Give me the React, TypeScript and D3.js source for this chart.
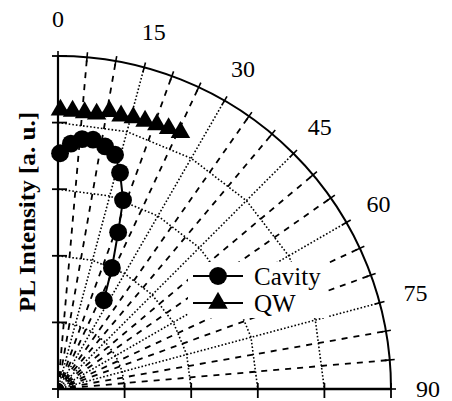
import React from 'react';
import * as d3 from 'd3';

// angle in degrees (0 = up, 90 = right), intensity in ring units
const cavityAngles = [0.5, 3, 5.5, 8, 11, 13.7, 16, 19, 21, 24, 27.3];
const cavityValues = [3.54, 3.69, 3.77, 3.78, 3.71, 3.62, 3.38, 3.0, 2.52, 1.99, 1.5];
const qwAngles = [0.5, 3, 5.5, 8, 10.5, 13, 15.5, 18, 20.5, 23, 25.5];
const qwValues = [4.19, 4.18, 4.17, 4.17, 4.24, 4.21, 4.23, 4.23, 4.24, 4.25, 4.27];

const angleLabels = [0, 15, 30, 45, 60, 75, 90];
const angleTicks = d3.range(0, 91, 5);
const ringTicks = [0, 1, 2, 3, 4, 5];

const W = 452, H = 401;
const cx = 58, cy = 389;
const R = 333;

const App = () => {
    const r = d3.scaleLinear().domain([0, 5]).range([0, R]);
    const a = d3.scaleLinear().domain([0, 90]).range([0, Math.PI / 2]);

    const cavity = cavityAngles.map((t, i) => ({ angle: t, value: cavityValues[i] }));
    const qw = qwAngles.map((t, i) => ({ angle: t, value: qwValues[i] }));

    const line = d3.lineRadial<{ angle: number, value: number }>()
        .angle(d => a(d.angle))
        .radius(d => r(d.value));

    const ring = (v: number) => d3.lineRadial<number>()
        .angle(d => a(d))
        .radius(() => r(v))(angleLabels);

    const outer = d3.path();
    outer.arc(0, 0, r(5), -Math.PI / 2, 0);

    const pt = (deg: number, rad: number) => d3.pointRadial(a(deg), rad);

    const circleSym = d3.symbol(d3.symbolCircle, 250)();
    const triSym = d3.symbol(d3.symbolTriangle, 165)();

    const font = '"Liberation Serif", "Times New Roman", serif';

    return (
        <svg width={W} height={H} style={{ position: 'absolute', left: 0, top: 0, background: '#fff' }}>
            <g transform={`translate(${cx},${cy})`}>
                {/* rings */}
                {ringTicks.filter(v => v > 0 && v < 5).map(v => (
                    <path key={'ring' + v} d={ring(v) || ''} fill="none" stroke="#000"
                        strokeWidth={1.6} strokeDasharray="1.6,2" />
                ))}
                {/* spokes */}
                {angleTicks.filter(t => t > 0 && t < 90).map(t => {
                    const [x, y] = pt(t, r(5));
                    const dotted = t % 15 === 0;
                    return (
                        <line key={'sp' + t} x1={0} y1={0} x2={x} y2={y} stroke="#000"
                            strokeWidth={dotted ? 1.6 : 1.8}
                            strokeDasharray={dotted ? '1.6,2' : '6,6'} />
                    );
                })}
                {/* outer arc */}
                <path d={outer.toString()} fill="none" stroke="#000" strokeWidth={2} />
                {angleTicks.map(t => {
                    const [x1, y1] = pt(t, r(5) - 5);
                    const [x2, y2] = pt(t, r(5) + 5);
                    return <line key={'at' + t} x1={x1} y1={y1} x2={x2} y2={y2} stroke="#000" strokeWidth={1.6} />;
                })}
                {/* axes */}
                <line x1={0} y1={0} x2={0} y2={-r(5)} stroke="#000" strokeWidth={2.2} />
                <line x1={0} y1={0} x2={r(5)} y2={0} stroke="#000" strokeWidth={2.5} />
                {ringTicks.map(v => (
                    <g key={'rt' + v}>
                        <line x1={-6} x2={9} y1={-r(v)} y2={-r(v)} stroke="#000" strokeWidth={1.8} />
                        <line x1={r(v)} x2={r(v)} y1={-6} y2={9} stroke="#000" strokeWidth={1.8} />
                    </g>
                ))}
                {/* angle labels */}
                {angleLabels.map(t => {
                    const [x, y] = pt(t, 370);
                    return (
                        <text key={'al' + t} x={x} y={y} textAnchor="middle" dominantBaseline="central"
                            fontFamily={font} fontSize={24}>{t}</text>
                    );
                })}
                {/* series */}
                <path d={line(cavity) || ''} fill="none" stroke="#000" strokeWidth={2} />
                {cavity.map((d, i) => {
                    const [x, y] = pt(d.angle, r(d.value));
                    return <path key={'c' + i} d={circleSym || ''} transform={`translate(${x},${y})`} fill="#000" />;
                })}
                <path d={line(qw) || ''} fill="none" stroke="#000" strokeWidth={2} />
                {qw.map((d, i) => {
                    const [x, y] = pt(d.angle, r(d.value));
                    return <path key={'q' + i} d={triSym || ''} transform={`translate(${x},${y})`} fill="#000" />;
                })}
            </g>
            {/* axis title */}
            <text transform="translate(35,212) rotate(-90)" textAnchor="middle" fontFamily={font}
                fontWeight="bold" fontSize={24} textLength={200} lengthAdjust="spacingAndGlyphs">
                PL Intensity [a. u.]
            </text>
            {/* legend */}
            <g fontFamily={font} fontSize={25}>
                <rect x={188} y={262} width={140} height={56} fill="#fff" />
                <line x1={193} x2={243} y1={276} y2={276} stroke="#000" strokeWidth={2} />
                <path d={circleSym || ''} transform="translate(218,276)" fill="#000" />
                <text x={254} y={285}>Cavity</text>
                <line x1={193} x2={243} y1={303} y2={303} stroke="#000" strokeWidth={2} />
                <path d={triSym || ''} transform="translate(218,303)" fill="#000" />
                <text x={254} y={312}>QW</text>
            </g>
        </svg>
    );
};

export default App;
